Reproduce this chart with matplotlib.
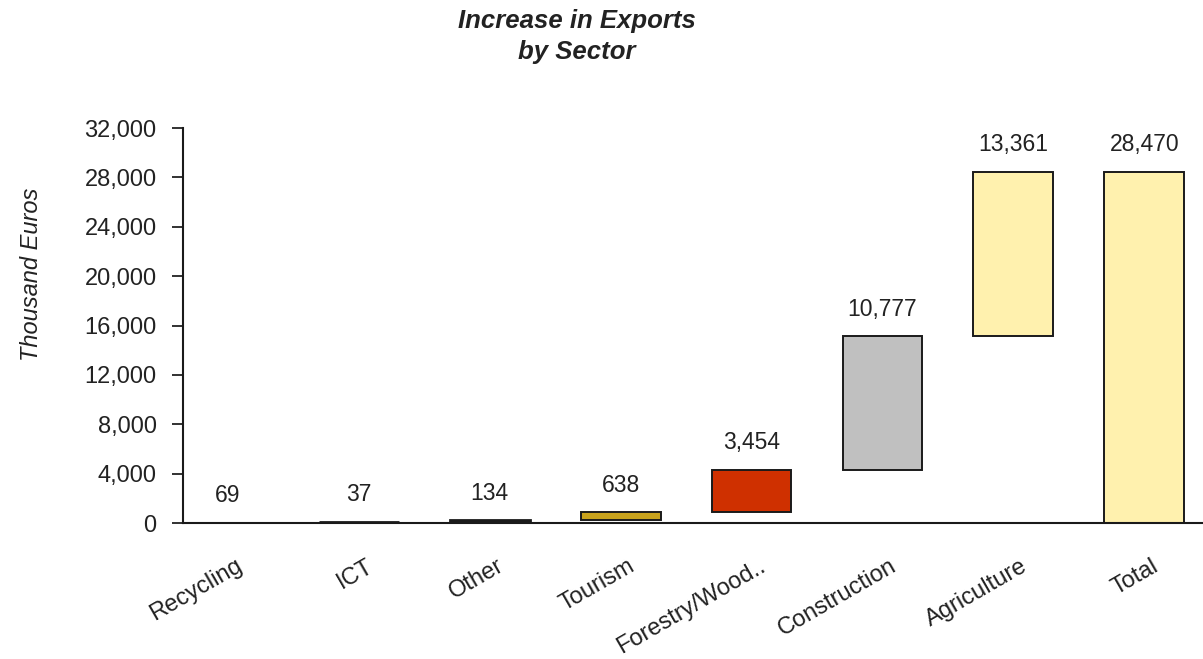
import matplotlib
matplotlib.use("Agg")
import matplotlib.pyplot as plt
import matplotlib.transforms as mtransforms
from matplotlib.ticker import FuncFormatter
import numpy as np

# Sector contributions to the export increase (thousand euros)
sectors = ["Recycling", "ICT", "Other", "Tourism", "Forestry/Wood..",
           "Construction", "Agriculture", "Total"]
increases = [69, 37, 134, 638, 3454, 10777, 13361]
total = 28470
bar_colors = ["#FFFFFF", "#000000", "#000000", "#C8A21C", "#CF3000",
              "#C0C0C0", "#FFF1AE", "#FFF1AE"]
y_ticks = [0, 4000, 8000, 12000, 16000, 20000, 24000, 28000, 32000]

plt.rcParams["font.family"] = ["Liberation Sans", "DejaVu Sans"]
text_color = "#222222"

fig = plt.figure(figsize=(12.03, 6.59), dpi=100)
ax = fig.add_axes([183 / 1203, 136 / 659, 1020 / 1203, 395 / 659])

# Waterfall: each sector floats on the running sum of the previous ones
bottoms = np.concatenate([[0], np.cumsum(increases)[:-1]])
heights = list(increases) + [total]
bottoms = list(bottoms) + [0]
x = np.arange(len(sectors))

for i, (b, h, c) in enumerate(zip(bottoms, heights, bar_colors)):
    edge = "none" if i == 0 else "#1a1a1a"
    lw = 2.0 if i in (1, 2) else 1.4
    ax.bar(x[i], h, bottom=b, width=0.61, color=c, edgecolor=edge,
           linewidth=lw, zorder=2)
    ax.annotate(f"{h:,}", xy=(x[i], b + h), xytext=(0, 11),
                textcoords="offset points", ha="center", va="bottom",
                fontsize=16.5, color=text_color)

ax.set_xlim(-0.344, 7.449)
ax.set_ylim(0, 32000)
ax.set_yticks(y_ticks)
ax.yaxis.set_major_formatter(FuncFormatter(lambda v, _: f"{int(v):,}"))
ax.tick_params(axis="y", direction="out", length=8, width=1.3,
               pad=11, labelsize=17, colors=text_color)

ax.set_xticks(x)
ax.set_xticklabels(sectors, rotation=30, ha="right",
                   rotation_mode="anchor", fontsize=17, color=text_color)
ax.tick_params(axis="x", length=0, pad=23)
shift = mtransforms.ScaledTranslation(0.07, 0, fig.dpi_scale_trans)
for lbl in ax.get_xticklabels():
    lbl.set_transform(lbl.get_transform() + shift)

for side in ("top", "right"):
    ax.spines[side].set_visible(False)
for side in ("left", "bottom"):
    ax.spines[side].set_linewidth(1.5)
    ax.spines[side].set_color("#1a1a1a")

ax.set_ylabel("Thousand Euros", fontsize=17, fontstyle="italic",
              color=text_color)
ax.yaxis.set_label_coords(-0.137, 0.63)

fig.text(577 / 1203, 1 - 21 / 659, "Increase in Exports", ha="center",
         va="center", fontsize=18.5, fontweight="bold", fontstyle="italic",
         color=text_color)
fig.text(577 / 1203, 1 - 52 / 659, "by Sector", ha="center",
         va="center", fontsize=18.5, fontweight="bold", fontstyle="italic",
         color=text_color)

fig.savefig("out.png", dpi=100, facecolor="white")
